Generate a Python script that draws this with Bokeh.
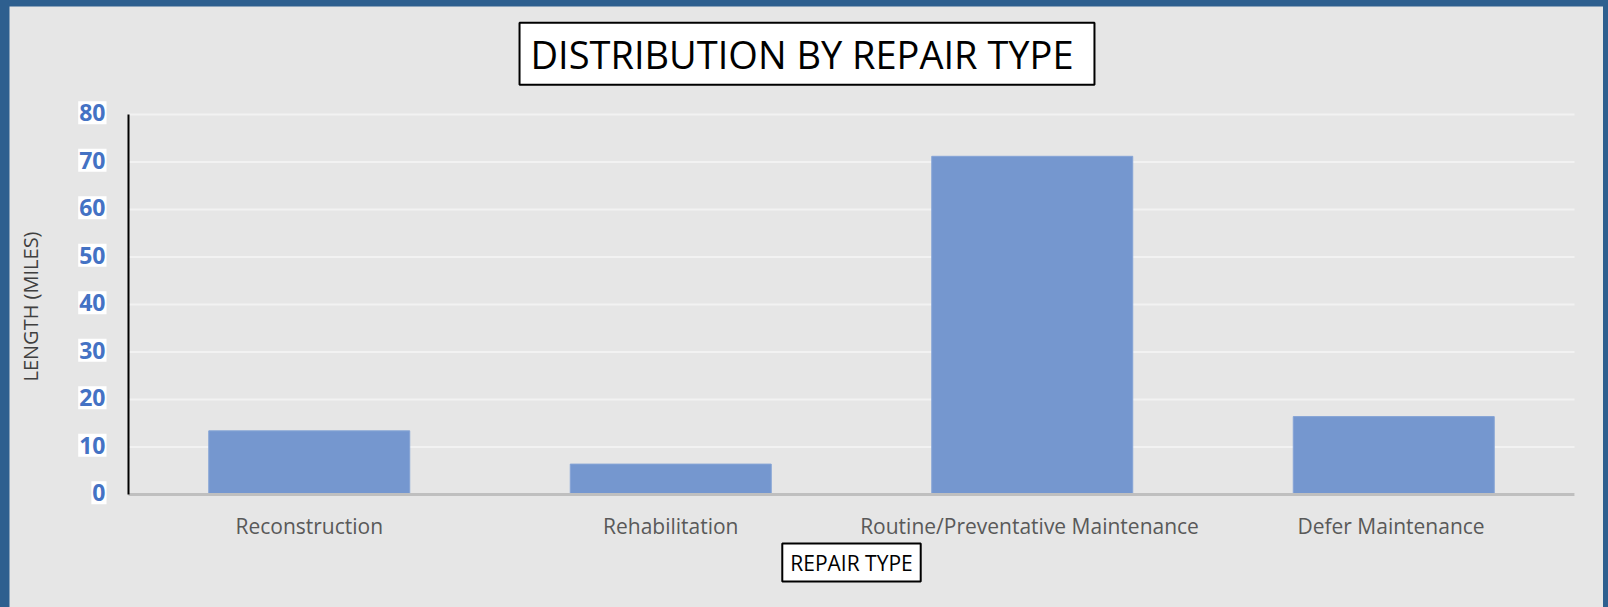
import math
from bokeh.plotting import figure
from bokeh.models import Range1d, Label
from bokeh.layouts import column
from bokeh.embed import file_html
from bokeh.resources import INLINE

# ---- data ----
categories = ["Reconstruction", "Rehabilitation",
              "Routine/Preventative  Maintenance", "Defer  Maintenance"]
lengths = [13.4, 6.4, 71.2, 16.4]
y_ticks = [0, 10, 20, 30, 40, 50, 60, 70, 80]
y_tick_labels = ["0", "10", "20", "30", "40", "50", "60", "70", "80"]
chart_title = "DISTRIBUTION  BY REPAIR TYPE"
x_title = "REPAIR TYPE"
y_title = "LENGTH (MILES)"

FONT = "Open Sans"

# page layout (pixels) -> data coordinates
PAD_L, PAD_T, PAD_R = 9, 6, 5
W, H = 1608 - PAD_L - PAD_R, 607 - PAD_T
X0_PX, CAT_PX = 128, 361.5          # left of plot area, width of one category
Y0_PX, UNIT_PX = 494, 4.75          # baseline, pixels per mile


def sx(px):
    return (px - X0_PX) / CAT_PX


def sy(py):
    return (Y0_PX - py) / UNIT_PX


n = len(categories)
x_pos = [i + 0.5 for i in range(n)]

p = figure(x_range=Range1d(sx(PAD_L), sx(PAD_L + W)),
           y_range=Range1d(sy(PAD_T + H), sy(PAD_T)),
           width=W, height=H,
           output_backend="svg", toolbar_location=None,
           x_axis_location=None, y_axis_location=None,
           min_border=0, min_border_left=0, min_border_right=0,
           min_border_top=0, min_border_bottom=0,
           background_fill_color="#e6e6e6", border_fill_color="#e6e6e6",
           outline_line_color=None)
p.grid.visible = False

# horizontal gridlines across the plot area
p.segment(x0=[0] * len(y_ticks), x1=[n] * len(y_ticks), y0=y_ticks, y1=y_ticks,
          line_color="#f2f2f2", line_width=2)

# bars
p.vbar(x=x_pos, top=lengths, bottom=0, width=0.556, fill_color="#7597CF",
       line_color="#86a4d6", line_width=1)

# axis lines
p.segment(x0=[0], x1=[n], y0=[0], y1=[0], line_color="#bfbfbf", line_width=3)
p.segment(x0=[0], x1=[0], y0=[0], y1=[max(y_ticks)], line_color="black", line_width=2)

# category labels
for xp, cat in zip(x_pos, categories):
    p.add_layout(Label(x=xp, y=sy(525.5), text=cat, text_align="center",
                       text_baseline="alphabetic", text_color="#595959",
                       text_font=FONT, text_font_size="21px"))

# y tick labels with white boxes
for t, lab in zip(y_ticks, y_tick_labels):
    p.add_layout(Label(x=sx(106), y=t + 0.35, text=lab, text_align="right",
                       text_baseline="middle", text_color="#4472C4",
                       text_font=FONT, text_font_style="bold",
                       text_font_size="23px", background_fill_color="white",
                       padding=dict(left=1, right=1, top=3, bottom=3)))

# y axis title
p.add_layout(Label(x=sx(30), y=sy(306), text=y_title, angle=math.pi / 2,
                   text_align="center", text_baseline="middle",
                   text_color="#404040", text_font=FONT,
                   text_font_size="20px"))

# x axis title box
p.add_layout(Label(x=sx(851), y=sy(562), text=x_title,
                   text_align="center", text_baseline="middle",
                   text_color="black", text_font=FONT,
                   text_font_size="21px", background_fill_color="white",
                   border_line_color="black", border_line_width=2,
                   padding=dict(left=8, right=8, top=5, bottom=5)))

# chart title box
p.add_layout(Label(x=sx(806.5), y=sy(53.3), text=chart_title,
                   text_align="center", text_baseline="middle",
                   text_color="black", text_font=FONT,
                   text_font_size="38px", background_fill_color="white",
                   border_line_color="black", border_line_width=2,
                   padding=dict(left=11, right=11, top=5, bottom=5)))

layout = column(p, styles={"background-color": "#2e5f8f",
                           "padding": f"{PAD_T}px {PAD_R}px 0px {PAD_L}px"})

open("out.html", "w").write(file_html(layout, INLINE))
